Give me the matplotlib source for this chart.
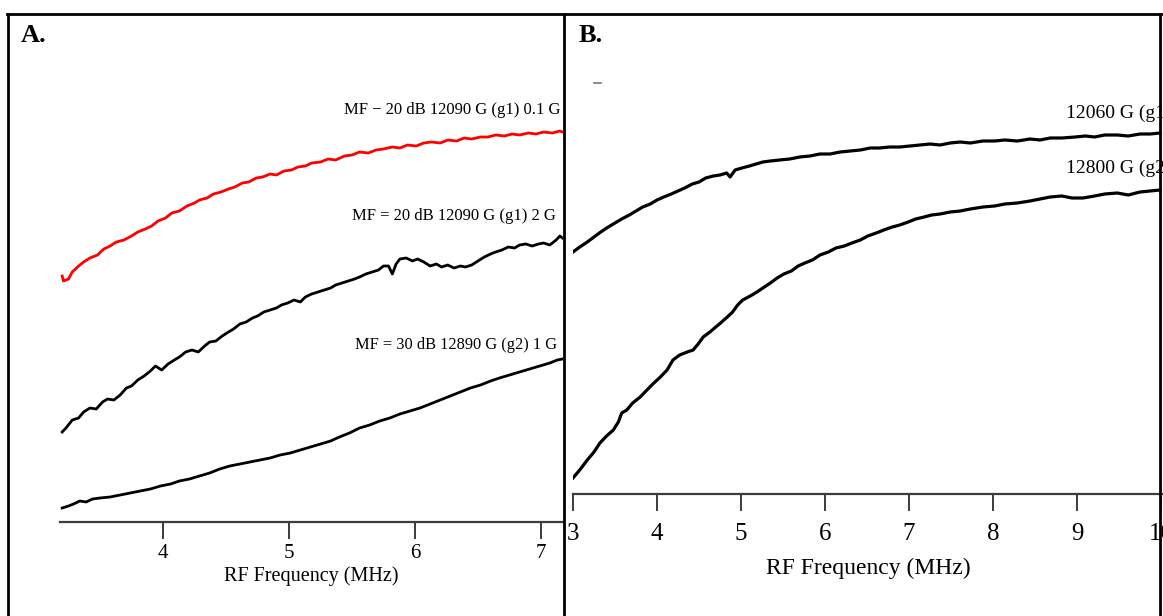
import matplotlib
matplotlib.use("Agg")
import matplotlib.pyplot as plt
from matplotlib.lines import Line2D

W, H = 1163, 616

# ------------ data (arbitrary intensity units) ------------

# panel A: RF frequency (MHz)
a_red_x = [3.20, 3.21, 3.25, 3.28, 3.33, 3.37, 3.42, 3.48, 3.53, 3.58, 3.63, 3.69, 3.75, 3.80,
           3.86, 3.91, 3.96, 4.02, 4.07, 4.13, 4.19, 4.25, 4.29, 4.35, 4.40, 4.46, 4.52, 4.57,
           4.63, 4.68, 4.74, 4.79, 4.85, 4.90, 4.96, 5.02, 5.07, 5.13, 5.18, 5.25, 5.31, 5.37,
           5.44, 5.50, 5.56, 5.63, 5.69, 5.75, 5.82, 5.88, 5.94, 6.01, 6.07, 6.13, 6.20, 6.26,
           6.33, 6.39, 6.45, 6.52, 6.58, 6.64, 6.71, 6.77, 6.83, 6.90, 6.96, 7.02, 7.09, 7.15, 7.17]
a_red_y = [2.46, 2.41, 2.43, 2.50, 2.56, 2.60, 2.64, 2.67, 2.73, 2.76, 2.80, 2.82, 2.86, 2.90,
           2.93, 2.96, 3.01, 3.04, 3.09, 3.11, 3.16, 3.19, 3.22, 3.24, 3.28, 3.30, 3.33, 3.35,
           3.39, 3.40, 3.44, 3.45, 3.48, 3.47, 3.51, 3.52, 3.55, 3.56, 3.59, 3.60, 3.63, 3.62,
           3.66, 3.67, 3.70, 3.69, 3.72, 3.73, 3.75, 3.74, 3.77, 3.76, 3.79, 3.80, 3.79, 3.82,
           3.81, 3.84, 3.83, 3.85, 3.85, 3.87, 3.86, 3.88, 3.87, 3.89, 3.88, 3.90, 3.89, 3.91, 3.90]

a_mid_x = [3.20, 3.23, 3.28, 3.33, 3.37, 3.42, 3.47, 3.52, 3.56, 3.61, 3.66, 3.71, 3.75, 3.80,
           3.85, 3.90, 3.94, 3.99, 4.04, 4.09, 4.13, 4.18, 4.23, 4.28, 4.33, 4.37, 4.42, 4.47,
           4.52, 4.56, 4.61, 4.66, 4.71, 4.75, 4.80, 4.85, 4.90, 4.94, 4.99, 5.04, 5.09, 5.13,
           5.18, 5.23, 5.28, 5.33, 5.37, 5.42, 5.47, 5.52, 5.56, 5.61, 5.66, 5.71, 5.75, 5.79,
           5.82, 5.85, 5.88, 5.93, 5.98, 6.02, 6.07, 6.12, 6.17, 6.21, 6.26, 6.31, 6.36, 6.40,
           6.45, 6.50, 6.55, 6.60, 6.64, 6.69, 6.74, 6.79, 6.83, 6.88, 6.93, 6.98, 7.02, 7.07,
           7.12, 7.15, 7.17]
a_mid_y = [0.90, 0.94, 1.02, 1.04, 1.10, 1.14, 1.13, 1.20, 1.23, 1.22, 1.27, 1.34, 1.36, 1.42,
           1.46, 1.51, 1.56, 1.52, 1.58, 1.62, 1.65, 1.70, 1.72, 1.70, 1.76, 1.80, 1.81, 1.86,
           1.90, 1.93, 1.98, 2.00, 2.04, 2.06, 2.10, 2.12, 2.14, 2.17, 2.19, 2.22, 2.20, 2.25,
           2.28, 2.30, 2.32, 2.34, 2.37, 2.39, 2.41, 2.43, 2.45, 2.48, 2.50, 2.52, 2.56, 2.56,
           2.48, 2.58, 2.63, 2.64, 2.61, 2.63, 2.60, 2.56, 2.58, 2.55, 2.57, 2.54, 2.56, 2.55,
           2.57, 2.61, 2.65, 2.68, 2.70, 2.72, 2.75, 2.74, 2.77, 2.78, 2.76, 2.78, 2.79, 2.77,
           2.82, 2.86, 2.84]

a_low_x = [3.20, 3.25, 3.29, 3.34, 3.39, 3.44, 3.50, 3.58, 3.66, 3.74, 3.82, 3.90, 3.98, 4.06,
           4.13, 4.21, 4.29, 4.37, 4.45, 4.53, 4.61, 4.69, 4.77, 4.85, 4.93, 5.01, 5.09, 5.17,
           5.25, 5.33, 5.40, 5.48, 5.56, 5.64, 5.72, 5.80, 5.88, 5.96, 6.04, 6.12, 6.20, 6.28,
           6.36, 6.44, 6.52, 6.60, 6.67, 6.75, 6.83, 6.91, 6.99, 7.07, 7.13, 7.17]
a_low_y = [0.14, 0.16, 0.18, 0.21, 0.20, 0.23, 0.24, 0.25, 0.27, 0.29, 0.31, 0.33, 0.36, 0.38,
           0.41, 0.43, 0.46, 0.49, 0.53, 0.56, 0.58, 0.60, 0.62, 0.64, 0.67, 0.69, 0.72, 0.75,
           0.78, 0.81, 0.85, 0.89, 0.94, 0.97, 1.01, 1.04, 1.08, 1.11, 1.14, 1.18, 1.22, 1.26,
           1.30, 1.34, 1.37, 1.41, 1.44, 1.47, 1.50, 1.53, 1.56, 1.59, 1.62, 1.63]

a_labels = ["MF \u2212 20 dB 12090 G (g1) 0.1 G",
            "MF = 20 dB 12090 G (g1) 2 G",
            "MF = 30 dB 12890 G (g2) 1 G"]
a_ticks = [4, 5, 6, 7]

# panel B
b_g1_x = [3.00, 3.08, 3.17, 3.25, 3.33, 3.42, 3.50, 3.58, 3.67, 3.75, 3.83, 3.92, 4.00, 4.08,
          4.17, 4.25, 4.33, 4.42, 4.50, 4.58, 4.67, 4.75, 4.83, 4.87, 4.93, 5.01, 5.10, 5.18,
          5.26, 5.35, 5.46, 5.58, 5.70, 5.82, 5.94, 6.06, 6.18, 6.30, 6.42, 6.54, 6.65, 6.77,
          6.89, 7.01, 7.13, 7.25, 7.37, 7.49, 7.61, 7.73, 7.88, 8.02, 8.14, 8.29, 8.44, 8.56,
          8.68, 8.82, 8.98, 9.10, 9.21, 9.33, 9.48, 9.61, 9.75, 9.87, 9.99]
b_g1_y = [2.42, 2.47, 2.52, 2.57, 2.62, 2.67, 2.71, 2.75, 2.79, 2.83, 2.87, 2.90, 2.94, 2.97,
          3.00, 3.03, 3.06, 3.10, 3.12, 3.16, 3.18, 3.19, 3.21, 3.17, 3.24, 3.26, 3.28, 3.30,
          3.32, 3.33, 3.34, 3.35, 3.37, 3.38, 3.40, 3.40, 3.42, 3.43, 3.44, 3.46, 3.46, 3.47,
          3.47, 3.48, 3.49, 3.50, 3.49, 3.51, 3.52, 3.51, 3.53, 3.53, 3.54, 3.53, 3.55, 3.54,
          3.56, 3.56, 3.57, 3.58, 3.57, 3.59, 3.59, 3.58, 3.60, 3.60, 3.61]

b_g2_x = [3.00, 3.08, 3.17, 3.25, 3.32, 3.40, 3.48, 3.54, 3.58, 3.64, 3.71, 3.80, 3.88, 3.95,
          4.04, 4.12, 4.19, 4.27, 4.36, 4.43, 4.49, 4.55, 4.63, 4.70, 4.77, 4.85, 4.90, 4.96,
          5.02, 5.11, 5.19, 5.26, 5.35, 5.43, 5.51, 5.60, 5.68, 5.76, 5.85, 5.94, 6.04, 6.13,
          6.23, 6.32, 6.42, 6.51, 6.61, 6.70, 6.80, 6.89, 6.99, 7.08, 7.18, 7.27, 7.37, 7.49,
          7.61, 7.73, 7.88, 8.02, 8.14, 8.29, 8.44, 8.56, 8.68, 8.82, 8.94, 9.07, 9.21, 9.33,
          9.48, 9.61, 9.75, 9.87, 9.99]
b_g2_y = [0.16, 0.24, 0.34, 0.42, 0.51, 0.58, 0.64, 0.72, 0.81, 0.84, 0.91, 0.97, 1.04, 1.10,
          1.17, 1.24, 1.34, 1.39, 1.42, 1.44, 1.50, 1.57, 1.62, 1.67, 1.72, 1.78, 1.82, 1.89,
          1.94, 1.98, 2.02, 2.06, 2.11, 2.16, 2.20, 2.23, 2.28, 2.31, 2.34, 2.39, 2.42, 2.46,
          2.48, 2.51, 2.54, 2.58, 2.61, 2.64, 2.67, 2.69, 2.72, 2.75, 2.77, 2.79, 2.80, 2.82,
          2.83, 2.85, 2.87, 2.88, 2.90, 2.91, 2.93, 2.95, 2.97, 2.98, 2.96, 2.96, 2.98, 3.00,
          3.01, 2.99, 3.02, 3.03, 3.04]

b_labels = ["12060 G (g1", "12800 G (g2"]
b_ticks = [3, 4, 5, 6, 7, 8, 9, 10]

# ------------ figure ------------

plt.rcParams["font.family"] = ["Liberation Serif", "DejaVu Serif"]
AXIS_COL = "#3c3c3c"

fig = plt.figure(figsize=(W / 100, H / 100), dpi=100)


def px_axes(x0, y0, x1, y1):
    return fig.add_axes([x0 / W, 1 - y1 / H, (x1 - x0) / W, (y1 - y0) / H])


def style_axis(ax, tick_size, label_size, pad, labelpad):
    for s in ["top", "left", "right"]:
        ax.spines[s].set_visible(False)
    ax.spines["bottom"].set_color(AXIS_COL)
    ax.spines["bottom"].set_linewidth(1.6)
    ax.set_yticks([])
    ax.tick_params(axis="x", direction="out", length=12, width=1.4, color=AXIS_COL,
                   labelsize=tick_size, pad=pad)
    ax.set_xlabel("RF Frequency (MHz)", fontsize=label_size, labelpad=labelpad)
    ax.patch.set_alpha(0)


# panel A: 126 px per MHz, 4 MHz at x=163, axis at y=522
axA = px_axes(60, 100, 563, 522)
axA.plot(a_red_x, a_red_y, color="red", lw=2.0)
axA.plot(a_mid_x, a_mid_y, color="black", lw=2.0)
axA.plot(a_low_x, a_low_y, color="black", lw=2.0)
axA.set_xlim(4 - 103 / 126, 4 + 400 / 126)
axA.set_ylim(0, 4.22)
axA.set_xticks(a_ticks)
style_axis(axA, 15, 14.5, 4, 2)

# panel B: 84 px per MHz, 3 MHz at x=573, axis at y=494
axB = px_axes(573, 100, 1163, 494)
axB.plot(b_g1_x, b_g1_y, color="black", lw=2.3)
axB.plot(b_g2_x, b_g2_y, color="black", lw=2.3)
axB.set_xlim(3, 3 + 590 / 84)
axB.set_ylim(0, 3.94)
axB.set_xticks(b_ticks)
style_axis(axB, 18, 17, 9, 9)

# curve labels
fig.text(561 / W, 1 - 110 / H, a_labels[0], ha="right", va="center", fontsize=12)
fig.text(556 / W, 1 - 216 / H, a_labels[1], ha="right", va="center", fontsize=12)
fig.text(557 / W, 1 - 345 / H, a_labels[2], ha="right", va="center", fontsize=11.8)
fig.text(1066 / W, 1 - 113 / H, b_labels[0], ha="left", va="center", fontsize=14)
fig.text(1066 / W, 1 - 168 / H, b_labels[1], ha="left", va="center", fontsize=14)

# panel letters
fig.text(21 / W, 1 - 35 / H, "A.", ha="left", va="center", fontsize=19, fontweight="bold")
fig.text(579 / W, 1 - 35 / H, "B.", ha="left", va="center", fontsize=19, fontweight="bold")

# frame around the two panels
frame = [((7, 1161), (14, 14)), ((8, 8), (14, 616)), ((564, 564), (14, 616)),
         ((1160, 1160), (14, 616))]
for xs, ys in frame:
    fig.add_artist(Line2D([x / W for x in xs], [1 - y / H for y in ys],
                          color="black", lw=2.0, transform=fig.transFigure))
fig.add_artist(Line2D([594 / W, 601 / W], [1 - 83 / H, 1 - 83 / H], color="#777777",
                      lw=1.2, transform=fig.transFigure))

fig.savefig("out.png", dpi=100)
